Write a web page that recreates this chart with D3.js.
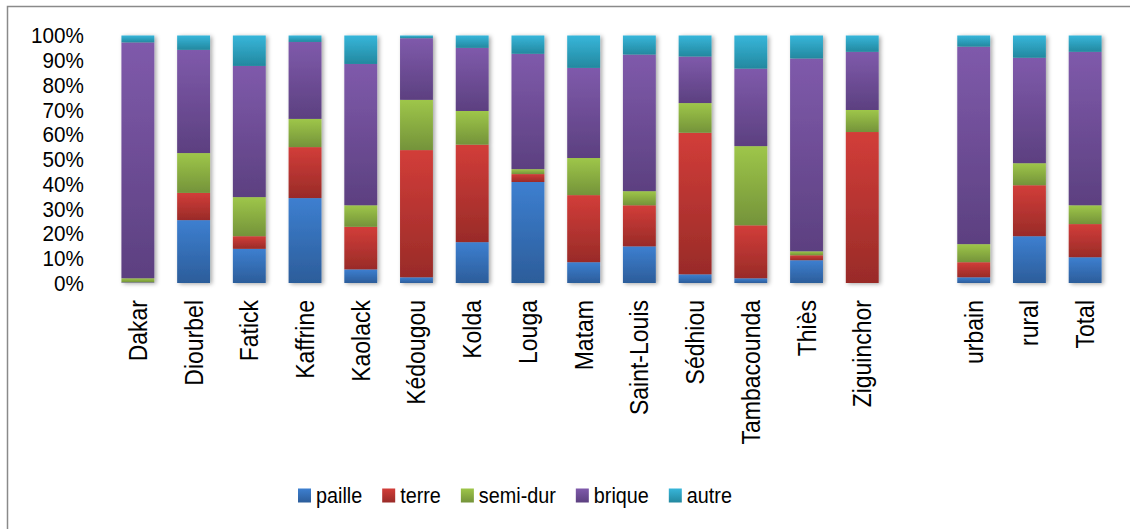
<!DOCTYPE html>
<html>
<head>
<meta charset="utf-8">
<script src="https://cdnjs.cloudflare.com/ajax/libs/d3/7.8.5/d3.min.js"></script>
<style>
  html, body { margin: 0; padding: 0; background: #fff; }
  svg { display: block; font-family: "Liberation Sans", Arial, sans-serif; }
</style>
</head>
<body>
<svg id="chart" width="1130" height="529"></svg>
<script>
// ---------- data ----------
const categories = ["Dakar","Diourbel","Fatick","Kaffrine","Kaolack","Kédougou","Kolda","Louga","Matam","Saint-Louis","Sédhiou","Tambacounda","Thiès","Ziguinchor","","urbain","rural","Total"];
const seriesNames = ["paille","terre","semi-dur","brique","autre"];
const paille  = [0.2, 25.4, 13.8, 34.3,  5.5,  2.3, 16.5, 40.8,  8.4, 14.8,  3.5,  1.9,  9.2,  0.0, null,  2.3, 18.9, 10.4];
const terre   = [0.1, 11.0,  5.1, 20.6, 17.2, 51.4, 39.4,  3.2, 27.1, 16.6, 57.2, 21.4,  2.0, 61.0, null,  6.1, 20.6, 13.4];
const semiDur = [1.6, 16.1, 15.8, 11.4,  8.7, 20.3, 13.6,  2.0, 15.0,  5.7, 12.0, 32.0,  1.6,  8.9, null,  7.3,  8.9,  7.6];
const brique  = [95.3, 41.7, 53.0, 31.1, 57.1, 24.9, 25.5, 46.6, 36.4, 55.2, 18.8, 31.3, 77.9, 23.5, null, 79.8, 42.6, 62.0];
const autre   = [2.8,  5.8, 12.3,  2.6, 11.5,  1.1,  5.0,  7.4, 13.1,  7.7,  8.5, 13.4,  9.3,  6.6, null,  4.5,  9.0,  6.6];
const yTicks = [0,10,20,30,40,50,60,70,80,90,100];

const seriesValues = [paille, terre, semiDur, brique, autre];
const gradTop    = ["#3d7fd0","#d23d39","#9ec649","#7f5aab","#37b6da"];
const gradBottom = ["#2c5d9a","#992b28","#74933a","#5c4080","#23889f"];

// ---------- layout ----------
const svg = d3.select("#chart");
const plotLeft = 110, plotRight = 1113, plotTop = 35.5, plotBottom = 283;

// outer border
svg.append("rect").attr("x", 7.5).attr("y", 6.5).attr("width", 1140).attr("height", 540)
  .attr("fill", "none").attr("stroke", "#8a8a8a").attr("stroke-width", 1.5);

const defs = svg.append("defs");
seriesNames.forEach((s, i) => {
  const g = defs.append("linearGradient").attr("id", "g" + i)
    .attr("x1", 0).attr("y1", 0).attr("x2", 0).attr("y2", 1);
  g.append("stop").attr("offset", "0%").attr("stop-color", gradTop[i]);
  g.append("stop").attr("offset", "100%").attr("stop-color", gradBottom[i]);
});
const sh = defs.append("filter").attr("id", "shadow").attr("x", "-30%").attr("y", "-5%").attr("width", "160%").attr("height", "110%");
sh.append("feDropShadow").attr("dx", 2).attr("dy", 1).attr("stdDeviation", 2)
  .attr("flood-color", "#000").attr("flood-opacity", 0.35);
const gsh = defs.append("filter").attr("id", "gshadow").attr("x", "-1%").attr("y", "-200%").attr("width", "102%").attr("height", "500%");
gsh.append("feDropShadow").attr("dx", 0).attr("dy", 1.5).attr("stdDeviation", 1)
  .attr("flood-color", "#000").attr("flood-opacity", 0.25);

const x = d3.scaleBand().domain(d3.range(categories.length)).range([plotLeft, plotRight]).paddingInner(0.41).paddingOuter(0.205);
const y = d3.scaleLinear().domain([0, 100]).range([plotBottom, plotTop]);

// gridlines
svg.append("g").selectAll("line").data(yTicks).join("line")
  .attr("x1", plotLeft).attr("x2", plotRight)
  .attr("y1", d => y(d)).attr("y2", d => y(d))
  .attr("stroke", "#8f8f8f").attr("stroke-width", 2)
  .attr("filter", "url(#gshadow)");

// y labels
svg.append("g").selectAll("text").data(yTicks).join("text")
  .attr("transform", d => `translate(84,${y(d)}) scale(0.94,1)`).attr("dy", "0.36em")
  .attr("text-anchor", "end").attr("font-size", 22).attr("fill", "#000")
  .text(d => d + "%");

// stacked data
const rows = categories.map((c, i) => {
  const r = { idx: i };
  seriesNames.forEach((s, k) => r[s] = seriesValues[k][i] || 0);
  return r;
});
const filled = rows.filter(r => categories[r.idx] !== "");
const stack = d3.stack().keys(seriesNames).offset(d3.stackOffsetExpand)(filled);

const bars = svg.append("g");
filled.forEach((r, j) => {
  const g = bars.append("g").attr("filter", "url(#shadow)");
  stack.forEach((layer, k) => {
    const d = layer[j];
    const y0 = y(d[0] * 100), y1 = y(d[1] * 100);
    if (y0 - y1 <= 0.01) return;
    g.append("rect")
      .attr("x", x(r.idx)).attr("width", x.bandwidth())
      .attr("y", y1).attr("height", y0 - y1)
      .attr("fill", `url(#g${k})`);
  });
});

// x labels
svg.append("g").selectAll("text").data(categories.map((c, i) => ({ c, i })).filter(d => d.c !== "")).join("text")
  .attr("transform", d => `translate(${x(d.i) + x.bandwidth() / 2},300) rotate(-90) scale(0.92,1)`)
  .attr("dy", "0.36em").attr("text-anchor", "end").attr("font-size", 25).attr("fill", "#000")
  .text(d => d.c);

// legend
const leg = svg.append("g");
let lx = 298;
seriesNames.forEach((s, i) => {
  leg.append("rect").attr("x", lx).attr("y", 488.5).attr("width", 13).attr("height", 14)
    .attr("fill", `url(#g${i})`);
  const t = leg.append("text").attr("transform", `translate(${lx + 18},495.5) scale(0.9,1)`).attr("dy", "0.36em")
    .attr("font-size", 22).attr("fill", "#000").text(s);
  lx += 18 + t.node().getComputedTextLength() * 0.9 + 20;
});
</script>
</body>
</html>
